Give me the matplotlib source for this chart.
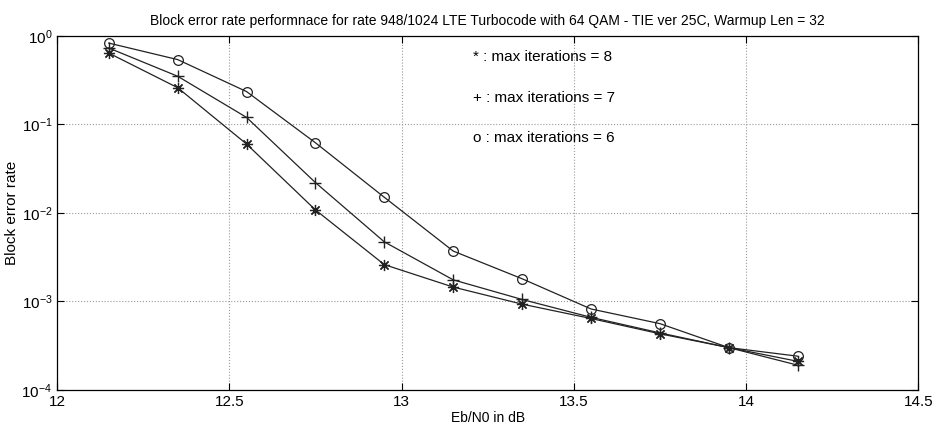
import matplotlib
matplotlib.use("Agg")
import matplotlib.pyplot as plt
import numpy as np

plt.rcParams['font.family'] = ['Liberation Sans', 'DejaVu Sans']

# Eb/N0 points (dB)
ebn0 = [12.15, 12.35, 12.55, 12.75, 12.95, 13.15, 13.35, 13.55, 13.75, 13.95, 14.15]

# block error rate for each max iteration setting
bler_it8 = [0.64, 0.26, 0.060, 0.0108, 0.0026, 0.00145, 0.00093, 0.00064, 0.00043, 0.00030, 0.00021]
bler_it7 = [0.73, 0.35, 0.120, 0.0220, 0.0047, 0.00175, 0.00105, 0.00066, 0.00044, 0.00030, 0.00019]
bler_it6 = [0.83, 0.54, 0.235, 0.0620, 0.0150, 0.00370, 0.00180, 0.00082, 0.00056, 0.00030, 0.00024]

labels = ['* : max iterations = 8', '+ : max iterations = 7', 'o : max iterations = 6']

fig = plt.figure(figsize=(9.36, 4.38), dpi=100)
ax = fig.add_axes([0.061, 0.110, 0.920, 0.808])

# matlab style asterisk: 8 spokes
ax.semilogy(ebn0, bler_it8, '-', marker=(8, 2, 0), color='#222222', lw=0.9, ms=8, mew=0.9)
ax.semilogy(ebn0, bler_it7, '-+', color='#222222', lw=0.9, ms=9)
ax.semilogy(ebn0, bler_it6, '-o', color='#222222', lw=0.9, ms=7, mfc='none', mew=0.9)

ax.set_xlim(12, 14.5)
ax.set_ylim(1e-4, 1)
ax.set_xticks([12, 12.5, 13, 13.5, 14, 14.5])
ax.set_xticklabels(['12', '12.5', '13', '13.5', '14', '14.5'])
ax.set_yticks([1e-4, 1e-3, 1e-2, 1e-1, 1])
ax.yaxis.set_minor_locator(matplotlib.ticker.NullLocator())
ax.grid(True, which='major', ls=':', color='#999999', lw=0.8)
ax.tick_params(direction='in', labelsize=11, length=5, top=True, right=True)
for s in ax.spines.values():
    s.set_linewidth(0.9)

ax.set_xlabel('Eb/N0 in dB', fontsize=10, labelpad=2)
ax.set_ylabel('Block error rate', fontsize=11, labelpad=2)
ax.set_title('Block error rate performnace for rate 948/1024 LTE Turbocode with 64 QAM - TIE ver 25C, Warmup Len = 32',
             fontsize=10, pad=8)

for lab, yy in zip(labels, [0.94, 0.825, 0.712]):
    ax.text(0.483, yy, lab, transform=ax.transAxes, fontsize=11, va='center')

fig.savefig('out.png', dpi=100)
